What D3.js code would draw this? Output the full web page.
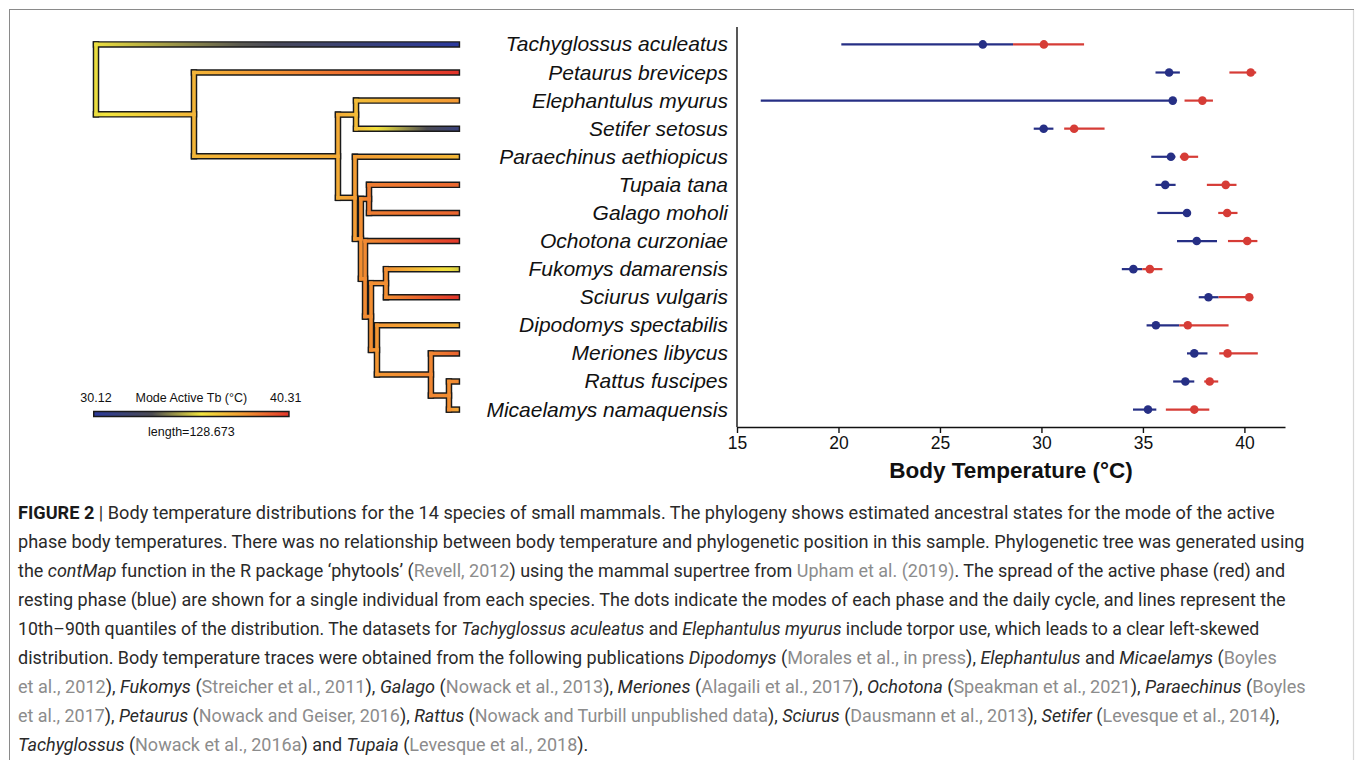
<!DOCTYPE html>
<html>
<head>
<meta charset="utf-8">
<script src="https://cdn.jsdelivr.net/npm/d3@7/dist/d3.min.js"></script>
<style>
body{margin:0;background:#fff;}
svg{display:block;}
</style>
</head>
<body>
<svg id="fig" width="1355" height="760"></svg>
<script>
// species in tree order (top to bottom)
const species = ["Tachyglossus aculeatus","Petaurus breviceps","Elephantulus myurus","Setifer setosus",
  "Paraechinus aethiopicus","Tupaia tana","Galago moholi","Ochotona curzoniae","Fukomys damarensis",
  "Sciurus vulgaris","Dipodomys spectabilis","Meriones libycus","Rattus fuscipes","Micaelamys namaquensis"];

// resting phase (blue): 10th quantile, mode, 90th quantile
const restLo   = [20.14,35.62,16.17,29.62,35.41,35.62,35.71,36.68,33.96,37.75,35.18,37.17,36.49,34.51];
const restMode = [27.11,36.29,36.47,30.11,36.38,36.10,37.17,37.65,34.53,38.23,35.64,37.53,37.09,35.25];
const restHi   = [28.60,36.82,36.60,30.59,36.60,36.61,37.20,38.65,34.97,38.73,36.79,38.18,37.53,35.66];
// active phase (red)
const actLo    = [28.60,39.26,37.05,31.12,36.82,38.15,38.71,39.19,34.97,38.73,36.79,38.76,38.02,36.13];
const actMode  = [30.12,40.31,37.93,31.61,37.05,39.08,39.15,40.14,35.34,40.24,37.21,39.17,38.29,37.53];
const actHi    = [32.10,40.58,38.45,33.11,37.72,39.61,39.66,40.64,35.96,40.30,39.22,40.66,38.71,38.27];

const xTicks = [15,20,25,30,35,40];
const xLimits = [15,42];

// phylogeny (branch lengths in tree units)
const treeNewick = "(Tachyglossus_aculeatus:236.1,(Petaurus_breviceps:172.0,((Elephantulus_myurus:66.0,Setifer_setosus:66.0)Afrotheria:11.8,(Paraechinus_aethiopicus:66.7,((Tupaia_tana:57.5,Galago_moholi:57.5)Euarchonta:5.3,(Ochotona_curzoniae:60.1,((Fukomys_damarensis:46.4,Sciurus_vulgaris:46.4)Ctenohystrica:9.8,(Dipodomys_spectabilis:52.3,(Meriones_libycus:17.0,(Rattus_fuscipes:5.2,Micaelamys_namaquensis:5.2)Murinae:11.8)Muridae:35.3)Myodonta:3.9)Rodentia:3.9)Glires:2.7)Euarchontoglires:3.9)Boreoeutheria:11.1)Placentalia:94.2)Theria:64.1)Mammalia;";
// estimated ancestral states (mode active Tb) at internal nodes
const nodeNames = ["Mammalia","Theria","Placentalia","Afrotheria","Boreoeutheria","Euarchontoglires",
  "Euarchonta","Glires","Rodentia","Ctenohystrica","Myodonta","Muridae","Murinae"];
const nodeTb = [35.6,37.1,37.4,36.9,37.8,38.2,38.6,38.3,38.2,38.2,38.0,38.4,38.2];

const legendRange = [30.12,40.31];
const legendLength = 128.673;

const captionLines = [
  "**FIGURE 2** | Body temperature distributions for the 14 species of small mammals. The phylogeny shows estimated ancestral states for the mode of the active",
  "phase body temperatures. There was no relationship between body temperature and phylogenetic position in this sample. Phylogenetic tree was generated using",
  "the *contMap* function in the R package \u2018phytools\u2019 ([Revell, 2012]) using the mammal supertree from [Upham et al. (2019)]. The spread of the active phase (red) and",
  "resting phase (blue) are shown for a single individual from each species. The dots indicate the modes of each phase and the daily cycle, and lines represent the",
  "10th\u201390th quantiles of the distribution. The datasets for *Tachyglossus aculeatus* and *Elephantulus myurus* include torpor use, which leads to a clear left-skewed",
  "distribution. Body temperature traces were obtained from the following publications *Dipodomys* ([Morales et al., in press]), *Elephantulus* and *Micaelamys* ([Boyles]",
  "[et al., 2012]), *Fukomys* ([Streicher et al., 2011]), *Galago* ([Nowack et al., 2013]), *Meriones* ([Alagaili et al., 2017]), *Ochotona* ([Speakman et al., 2021]), *Paraechinus* ([Boyles]",
  "[et al., 2017]), *Petaurus* ([Nowack and Geiser, 2016]), *Rattus* ([Nowack and Turbill unpublished data]), *Sciurus* ([Dausmann et al., 2013]), *Setifer* ([Levesque et al., 2014]),",
  "*Tachyglossus* ([Nowack et al., 2016a]) and *Tupaia* ([Levesque et al., 2018])."
];
// right ends of the full caption lines (last line is set at the mean condensing)
const captionEnds = [1275,1305,1286,1287,1260,1277,1306,1280,null];

const svg = d3.select("#fig");
const sans = "'Liberation Sans', Arial, Helvetica, sans-serif";

// figure frame
svg.append("rect").attr("x",9.5).attr("y",9.5).attr("width",1344).attr("height",800)
  .attr("fill","none").attr("stroke","#8a8a8a").attr("stroke-width",1);
svg.append("line").attr("x1",1353.5).attr("x2",1353.5).attr("y1",10).attr("y2",760)
  .attr("stroke","#d8d8d8").attr("stroke-width",1.2);

// ---------- scales ----------
const yRow = d3.scalePoint().domain(species).range([27,427]).padding(0.62);
const x = d3.scaleLinear().domain(xLimits).range([737,1285]);

// colour ramp used by contMap
const tbColor = d3.scaleLinear()
  .domain([0,0.3,0.55,0.78,1].map(t => legendRange[0] + t*(legendRange[1]-legendRange[0])))
  .range(["#2b3a9e","#4b4b52","#f2e53e","#f39433","#e2332a"])
  .interpolate(d3.interpolateRgb).clamp(true);

// ---------- tree ----------
function parseNewick(s){
  let i=0;
  function node(){
    const n={};
    if(s[i]==='('){
      i++;
      n.children=[node()];
      while(s[i]===','){ i++; n.children.push(node()); }
      i++;
    }
    let name='';
    while(i<s.length && !':,);'.includes(s[i])) name+=s[i++];
    n.name=name.replace(/_/g,' ');
    n.length=0;
    if(s[i]===':'){
      i++; let num='';
      while(i<s.length && !',);'.includes(s[i])) num+=s[i++];
      n.length=+num;
    }
    return n;
  }
  return node();
}

const root = d3.hierarchy(parseNewick(treeNewick));
root.eachBefore(d => { d.dist = d.parent ? d.parent.dist + d.data.length : 0; });
root.eachAfter(d => {
  if(d.children) d.y = d3.mean(d.children, c => c.y);
  else d.y = yRow(d.data.name);
});
const nodeState = {};
nodeNames.forEach((n,i) => nodeState[n]=nodeTb[i]);
species.forEach((n,i) => nodeState[n]=actMode[i]);
root.each(d => d.tb = nodeState[d.data.name]);

const treeDepth = d3.max(root.leaves(), d => d.dist);
const pxPerUnit = 196.7/legendLength;
const tx = d3.scaleLinear().domain([0,treeDepth]).range([96, 96+treeDepth*pxPerUnit]);

const defs = svg.append("defs");
const edges = root.descendants().filter(d => d.parent);
edges.forEach((d,i) => {
  const g = defs.append("linearGradient").attr("id","br"+i)
    .attr("gradientUnits","userSpaceOnUse")
    .attr("x1",tx(d.parent.dist)).attr("x2",tx(d.dist)).attr("y1",0).attr("y2",0);
  d3.range(0,1.0001,0.1).forEach(t => {
    g.append("stop").attr("offset",t).attr("stop-color",tbColor(d.parent.tb + t*(d.tb-d.parent.tb)));
  });
  d.grad = "url(#br"+i+")";
});
const inner = root.descendants().filter(d => d.children);

const treeG = svg.append("g");
function drawTree(width, colored){
  const g = treeG.append("g").attr("stroke-linecap","square").attr("fill","none");
  g.selectAll("line.v").data(inner).join("line")
    .attr("x1",d=>tx(d.dist)).attr("x2",d=>tx(d.dist))
    .attr("y1",d=>d3.min(d.children,c=>c.y)).attr("y2",d=>d3.max(d.children,c=>c.y))
    .attr("stroke",d=>colored ? tbColor(d.tb) : "#1a1a1a").attr("stroke-width",width);
  g.selectAll("line.h").data(edges).join("line")
    .attr("x1",d=>tx(d.parent.dist)).attr("x2",d=>tx(d.dist))
    .attr("y1",d=>d.y).attr("y2",d=>d.y)
    .attr("stroke",d=>colored ? d.grad : "#1a1a1a").attr("stroke-width",width);
}
drawTree(6.5,false);
drawTree(3.6,true);

// legend
const lgX0 = tx(0)-3, lgX1 = tx(0)-3 + tx(legendLength) - tx(0), lgY = 414;
const lgGrad = defs.append("linearGradient").attr("id","lg").attr("gradientUnits","userSpaceOnUse")
  .attr("x1",lgX0).attr("x2",lgX1).attr("y1",0).attr("y2",0);
d3.range(0,1.0001,0.05).forEach(t => lgGrad.append("stop").attr("offset",t)
  .attr("stop-color",tbColor(legendRange[0]+t*(legendRange[1]-legendRange[0]))));
svg.append("line").attr("x1",lgX0).attr("x2",lgX1).attr("y1",lgY).attr("y2",lgY)
  .attr("stroke","#1a1a1a").attr("stroke-width",6.5).attr("stroke-linecap","butt");
svg.append("line").attr("x1",lgX0+1.5).attr("x2",lgX1-1.5).attr("y1",lgY).attr("y2",lgY)
  .attr("stroke","url(#lg)").attr("stroke-width",3.6);
const lgText = svg.append("g").attr("font-family",sans).attr("font-size",12.5).attr("fill","#111")
  .attr("text-anchor","middle");
lgText.append("text").attr("x",lgX0+3).attr("y",lgY-12).text(legendRange[0].toFixed(2));
lgText.append("text").attr("x",lgX1-4).attr("y",lgY-12).text(legendRange[1].toFixed(2));
lgText.append("text").attr("x",(lgX0+lgX1)/2).attr("y",lgY-12).text("Mode Active Tb (\u00b0C)");
lgText.append("text").attr("x",(lgX0+lgX1)/2).attr("y",lgY+22).text("length=" + legendLength);

// species labels
svg.append("g").attr("font-family",sans).attr("font-size",21).attr("font-style","italic")
  .attr("text-anchor","end").attr("fill","#111")
  .selectAll("text").data(species).join("text")
  .attr("x",728).attr("y",d=>yRow(d)+7).text(d=>d);

// ---------- body temperature plot ----------
const rows = species.map((s,i) => ({s, rl:restLo[i], rm:restMode[i], rh:restHi[i], al:actLo[i], am:actMode[i], ah:actHi[i]}));
const blue = "#262f85", red = "#d63c36";
const pg = svg.append("g");
const rowG = pg.selectAll("g").data(rows).join("g").attr("transform",d=>`translate(0,${yRow(d.s)})`);
rowG.append("line").attr("x1",d=>x(d.rl)).attr("x2",d=>x(d.rh)).attr("stroke",blue).attr("stroke-width",2.2);
rowG.append("line").attr("x1",d=>x(d.al)).attr("x2",d=>x(d.ah)).attr("stroke",red).attr("stroke-width",2.2);
rowG.append("circle").attr("cx",d=>x(d.rm)).attr("r",4.3).attr("fill",blue);
rowG.append("circle").attr("cx",d=>x(d.am)).attr("r",4.3).attr("fill",red);

// L-shaped frame
const [yTop,yBot] = yRow.range();
pg.append("line").attr("x1",x.range()[0]).attr("x2",x.range()[0]).attr("y1",yTop).attr("y2",yBot)
  .attr("stroke","#111").attr("stroke-width",1.4);
const ax = pg.append("g").attr("transform",`translate(0,${yBot})`)
  .call(d3.axisBottom(x).tickValues(xTicks).tickSize(6).tickSizeOuter(0).tickPadding(4));
ax.select(".domain").attr("stroke","#111").attr("stroke-width",1.4);
ax.selectAll(".tick line").attr("stroke","#111").attr("stroke-width",1.4);
ax.selectAll(".tick text").attr("font-family",sans).attr("font-size",17.5).attr("fill","#111");
pg.append("text").attr("x",d3.mean(x.range())).attr("y",478).attr("text-anchor","middle")
  .attr("font-family",sans).attr("font-weight","bold").attr("font-size",22.5).attr("fill","#111")
  .text("Body Temperature (\u00b0C)");

// ---------- caption ----------
const cap = svg.append("g").attr("font-family","Roboto, 'Liberation Sans', sans-serif")
  .attr("font-size",19).attr("fill","#2a2a2a");
const capTexts = captionLines.map((line,i) => {
  const t = cap.append("text").attr("x",0).attr("y",0);
  line.split(/(\*\*[^*]+\*\*|\*[^*]+\*|\[[^\]]+\])/).filter(p => p.length).forEach(p => {
    const sp = t.append("tspan");
    if(p.startsWith("**")) sp.text(p.slice(2,-2)).attr("font-weight","bold").attr("fill","#1a1a1a");
    else if(p.startsWith("*")) sp.text(p.slice(1,-1)).attr("font-style","italic");
    else if(p.startsWith("[")) sp.text(p.slice(1,-1)).attr("fill","#8c8c8c");
    else sp.text(p);
  });
  return t;
});
// condense each line horizontally so it ends where the printed line ends
const natural = capTexts.map(t => t.node().getComputedTextLength());
const squeeze = d3.mean(captionEnds.filter(e => e), (e,i) => (e-18)/natural[i]);
capTexts.forEach((t,i) => {
  const k = captionEnds[i] ? (captionEnds[i]-18)/natural[i] : squeeze;
  t.attr("transform",`translate(18,${519 + i*29}) scale(${k},1)`);
});
</script>
</body>
</html>
